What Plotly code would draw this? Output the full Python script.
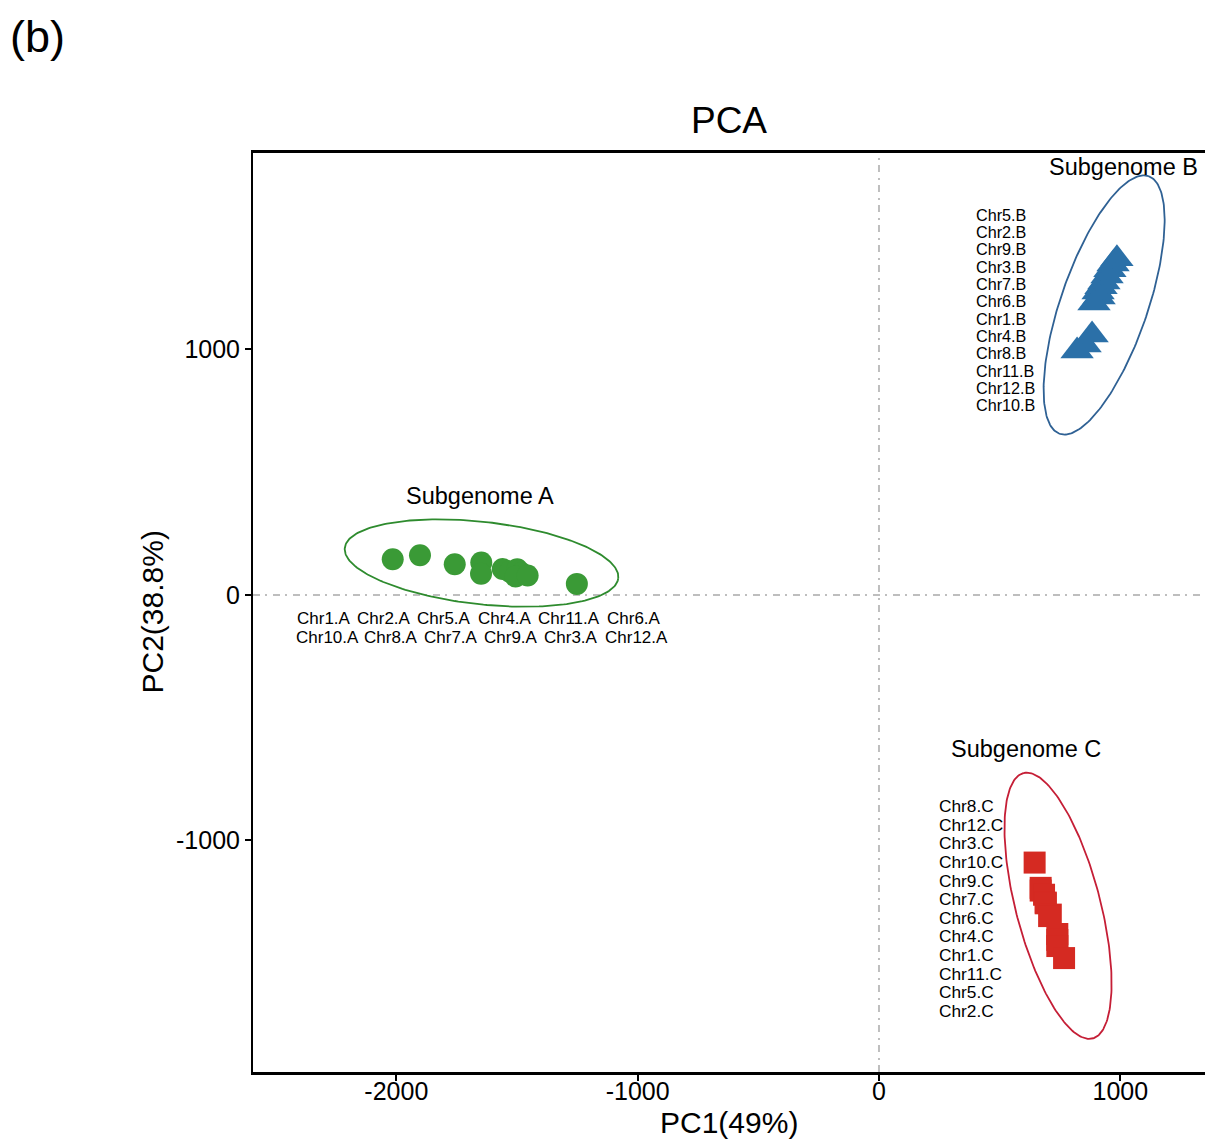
import numpy as np
import plotly.graph_objects as go

# ---- PCA scores per subgenome (PC1, PC2) ----
names_A = ["Chr1.A", "Chr10.A", "Chr2.A", "Chr8.A", "Chr5.A", "Chr7.A",
           "Chr4.A", "Chr9.A", "Chr11.A", "Chr3.A", "Chr6.A", "Chr12.A"]
pc1_A = [-2015, -1902, -1758, -1648, -1649, -1559, -1529, -1499, -1481, -1506, -1456, -1252]
pc2_A = [145, 162, 125, 132, 86, 106, 95, 105, 88, 75, 79, 45]

names_B = ["Chr5.B", "Chr2.B", "Chr9.B", "Chr3.B", "Chr7.B", "Chr6.B",
           "Chr1.B", "Chr4.B", "Chr8.B", "Chr11.B", "Chr12.B", "Chr10.B"]
pc1_B = [986, 970, 957, 945, 932, 920, 908, 912, 891, 883, 854, 821]
pc2_B = [1369, 1348, 1324, 1299, 1275, 1255, 1234, 1214, 1189, 1059, 1018, 994]

names_C = ["Chr8.C", "Chr12.C", "Chr3.C", "Chr10.C", "Chr9.C", "Chr7.C",
           "Chr6.C", "Chr4.C", "Chr1.C", "Chr11.C", "Chr5.C", "Chr2.C"]
pc1_C = [645, 670, 670, 684, 691, 691, 712, 705, 739, 739, 739, 767]
pc2_C = [-1090, -1193, -1204, -1221, -1253, -1256, -1302, -1308, -1381, -1405, -1430, -1479]

# ---- confidence ellipses: centre, semi-axes and rotation (degrees) ----
ell_cx = [-1647, 933, 742]
ell_cy = [130, 1181, -1266]
ell_a = [570, 556, 559]
ell_b = [168, 180, 175]
ell_angle = [-6.2, 70.6, 104.9]

group_titles = ["Subgenome A", "Subgenome B", "Subgenome C"]
title_x = [-1654, 1015, 609]
title_y = [403, 1743, -627]

# ---- styling ----
FONT = "Arial, Liberation Sans, Helvetica, sans-serif"
point_colors = ["#3A9A36", "#2B70A8", "#D52A22"]
ellipse_colors = ["#2E8B2E", "#2F6194", "#C51E36"]
symbols = ["circle", "triangle-up", "square"]
sizes = [22, 29, 22]

groups = [(names_A, pc1_A, pc2_A), (names_B, pc1_B, pc2_B), (names_C, pc1_C, pc2_C)]

fig = go.Figure()

t = np.linspace(0, 2 * np.pi, 240)
for i in range(3):
    th = np.deg2rad(ell_angle[i])
    ex = ell_cx[i] + ell_a[i] * np.cos(t) * np.cos(th) - ell_b[i] * np.sin(t) * np.sin(th)
    ey = ell_cy[i] + ell_a[i] * np.cos(t) * np.sin(th) + ell_b[i] * np.sin(t) * np.cos(th)
    fig.add_trace(go.Scatter(x=ex, y=ey, mode="lines",
                             line=dict(color=ellipse_colors[i], width=1.8),
                             hoverinfo="skip", showlegend=False))

for i, (nm, xs, ys) in enumerate(groups):
    fig.add_trace(go.Scatter(x=xs, y=ys, mode="markers", text=nm,
                             hovertemplate="%{text}<br>PC1=%{x}<br>PC2=%{y}<extra></extra>",
                             marker=dict(symbol=symbols[i], size=sizes[i],
                                         color=point_colors[i], line=dict(width=0)),
                             showlegend=False))

annotations = []

# group titles
for i in range(3):
    annotations.append(dict(x=title_x[i], y=title_y[i], xref="x", yref="y",
                            text=group_titles[i], showarrow=False,
                            font=dict(family=FONT, size=23.5, color="black"),
                            xanchor="center", yanchor="middle"))

# chromosome labels for subgenome A: two rows beneath the cluster
rowA1 = ["Chr1.A", "Chr2.A", "Chr5.A", "Chr4.A", "Chr11.A", "Chr6.A"]
rowA2 = ["Chr10.A", "Chr8.A", "Chr7.A", "Chr9.A", "Chr3.A", "Chr12.A"]
rowA1_x = [-2420, -2171, -1923, -1671, -1423, -1135]
rowA2_x = [-2424, -2141, -1895, -1646, -1395, -1144]
for lab, xx in zip(rowA1, rowA1_x):
    annotations.append(dict(x=xx, y=-94, xref="x", yref="y", text=lab, showarrow=False,
                            font=dict(family=FONT, size=17, color="black"),
                            xanchor="left", yanchor="middle"))
for lab, xx in zip(rowA2, rowA2_x):
    annotations.append(dict(x=xx, y=-175, xref="x", yref="y", text=lab, showarrow=False,
                            font=dict(family=FONT, size=17, color="black"),
                            xanchor="left", yanchor="middle"))

# stacked label columns for subgenomes B and C
for k, lab in enumerate(names_B):
    annotations.append(dict(x=394, y=1548, yshift=-17.3 * k, xref="x", yref="y",
                            text=lab, showarrow=False,
                            font=dict(family=FONT, size=16.2, color="black"),
                            xanchor="left", yanchor="middle"))
for k, lab in enumerate(names_C):
    annotations.append(dict(x=240, y=-860, yshift=-18.6 * k, xref="x", yref="y",
                            text=lab, showarrow=False,
                            font=dict(family=FONT, size=17.3, color="black"),
                            xanchor="left", yanchor="middle"))

# axis titles and panel tag
annotations.append(dict(x=0.5, y=0, xref="paper", yref="paper", yshift=-50,
                        text="PC1(49%)", showarrow=False,
                        font=dict(family=FONT, size=30, color="black"),
                        xanchor="center", yanchor="middle"))
annotations.append(dict(x=0, y=0.5, xref="paper", yref="paper", xshift=-101,
                        text="PC2(38.8%)", showarrow=False, textangle=-90,
                        font=dict(family=FONT, size=30, color="black"),
                        xanchor="center", yanchor="middle"))
annotations.append(dict(x=0, y=1, xref="paper", yref="paper", xshift=-245, yshift=117,
                        text="(b)", showarrow=False,
                        font=dict(family=FONT, size=45, color="black"),
                        xanchor="left", yanchor="middle"))

# reference lines through the origin
dash = "7px,5px,2px,6px"
shapes = [
    dict(type="line", xref="x", yref="paper", x0=0, x1=0, y0=0, y1=1,
         line=dict(color="#BEBEBE", width=2, dash=dash), layer="below"),
    dict(type="line", xref="paper", yref="y", x0=0, x1=1, y0=0, y1=0,
         line=dict(color="#BEBEBE", width=2, dash=dash), layer="below"),
]

fig.update_layout(
    width=1205, height=1141,
    margin=dict(l=253, r=0, t=153, b=69),
    paper_bgcolor="white", plot_bgcolor="white",
    showlegend=False,
    title=dict(text="PCA", x=0.5, xref="paper", xanchor="center",
               y=1 - 120 / 1141, yref="container", yanchor="middle",
               font=dict(family=FONT, size=37, color="black")),
    xaxis=dict(range=[-2594, 1351], tickvals=[-2000, -1000, 0, 1000],
               ticktext=["-2000", "-1000", "0", "1000"],
               ticks="outside", ticklen=6, tickwidth=1.5, tickcolor="black",
               ticklabelstandoff=-11,
               showline=True, linewidth=2.5, linecolor="black", mirror=True,
               showgrid=False, zeroline=False,
               tickfont=dict(family=FONT, size=25, color="black")),
    yaxis=dict(range=[-1943, 1800], tickvals=[-1000, 0, 1000],
               ticktext=["-1000", "0", "1000"],
               ticks="outside", ticklen=6, tickwidth=1.5, tickcolor="black",
               showline=True, linewidth=2, linecolor="black", mirror=False,
               showgrid=False, zeroline=False,
               tickfont=dict(family=FONT, size=25, color="black")),
    annotations=annotations,
    shapes=shapes,
)

fig.write_html("out.html")
